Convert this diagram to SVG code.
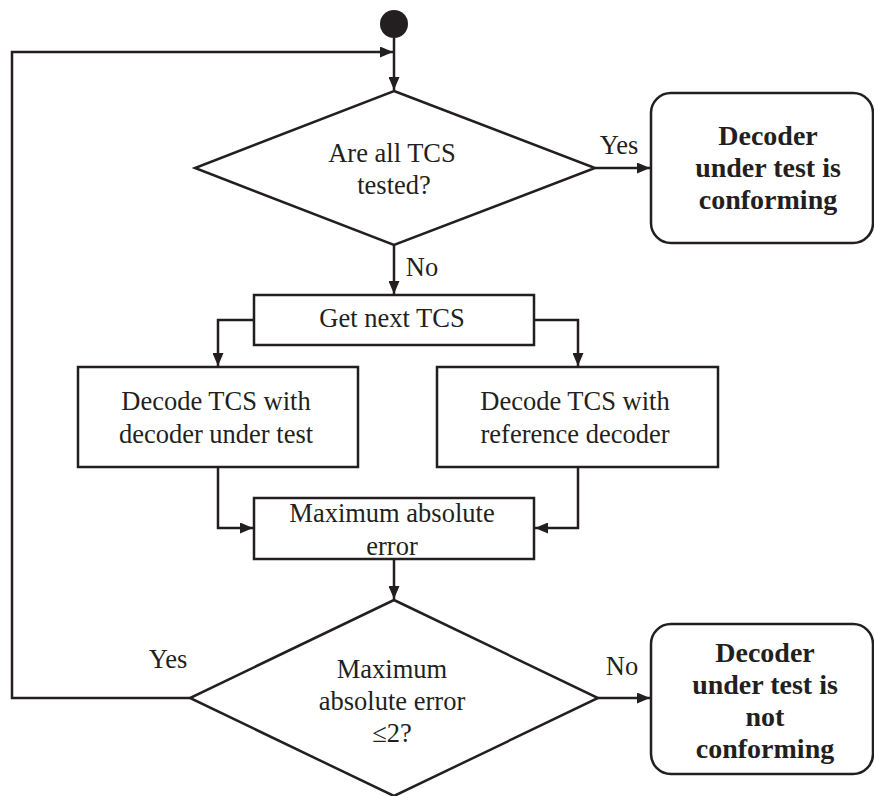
<svg xmlns="http://www.w3.org/2000/svg" width="874" height="796" viewBox="0 0 874 796">
<style>
.s{fill:#fff;stroke:#231f20;stroke-width:2.5}
.c{fill:none;stroke:#231f20;stroke-width:2.5;marker-end:url(#ah)}
text{font-family:"Liberation Serif","DejaVu Serif",serif;font-size:26.5px;fill:#231f20;text-anchor:middle}
.b{font-weight:bold;font-size:28px}
</style>
<defs>
<marker id="ah" viewBox="0 0 13 11" refX="13" refY="5.5" markerWidth="13" markerHeight="11" markerUnits="userSpaceOnUse" orient="auto">
<path d="M0,0 L13,5.5 L0,11 Z" fill="#231f20"/>
</marker>
</defs>
<rect width="874" height="796" fill="#fff"/>
<g id="connectors">
<path class="c" d="M394,38 V90"/>
<path class="c" d="M190,698 H12 V52 H393"/>
<path class="c" d="M595,168 H650"/>
<path class="c" d="M394,245 V294"/>
<path class="c" d="M254,320 H218 V366"/>
<path class="c" d="M534,320 H578 V366"/>
<path class="c" d="M218,467 V528 H253"/>
<path class="c" d="M578,467 V528 H535"/>
<path class="c" d="M394,559 V599"/>
<path class="c" d="M598,698 H650"/>
<text x="619" y="154">Yes</text>
<text x="422" y="276">No</text>
<text x="168" y="668">Yes</text>
<text x="622" y="675">No</text>
</g>
<g id="start"><circle cx="394" cy="24" r="14" fill="#231f20"/></g>
<g id="d1">
<polygon class="s" points="394,91 595,168 394,245 195,168"/>
<text x="392" y="162">Are all TCS</text>
<text x="394" y="194">tested?</text>
</g>
<g id="conf">
<rect class="s" x="651" y="93" width="222" height="150" rx="20"/>
<text class="b" x="768" y="145">Decoder</text>
<text class="b" x="768" y="177">under test is</text>
<text class="b" x="768" y="209">conforming</text>
</g>
<g id="next">
<rect class="s" x="254" y="295" width="280" height="50"/>
<text x="392" y="327">Get next TCS</text>
</g>
<g id="dut">
<rect class="s" x="78" y="367" width="280" height="100"/>
<text x="216" y="410">Decode TCS with</text>
<text x="216" y="443">decoder under test</text>
</g>
<g id="ref">
<rect class="s" x="437" y="367" width="281" height="100"/>
<text x="575" y="410">Decode TCS with</text>
<text x="575" y="443">reference decoder</text>
</g>
<g id="mae">
<rect class="s" x="254" y="498" width="280" height="61"/>
<text x="392" y="522">Maximum absolute</text>
<text x="392" y="555">error</text>
</g>
<g id="d2">
<polygon class="s" points="394,600 598,698 394,796 190,698"/>
<text x="392" y="678">Maximum</text>
<text x="392" y="710">absolute error</text>
<text x="392" y="742">≤2?</text>
</g>
<g id="notconf">
<rect class="s" x="651" y="624" width="222" height="150" rx="20"/>
<text class="b" x="765" y="662">Decoder</text>
<text class="b" x="765" y="694">under test is</text>
<text class="b" x="765" y="726">not</text>
<text class="b" x="765" y="758">conforming</text>
</g>
</svg>
